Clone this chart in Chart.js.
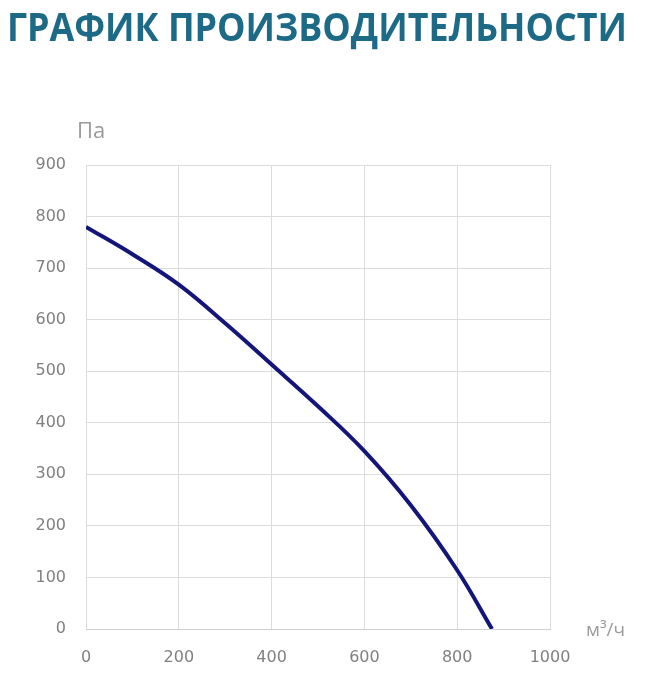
<!DOCTYPE html>
<html>
<head>
<meta charset="utf-8">
<script src="https://cdn.jsdelivr.net/npm/chart.js@4"></script>
<style>
  html, body { margin: 0; padding: 0; background: #fff; }
  body { width: 654px; height: 682px; position: relative; overflow: hidden; }
  #title {
    position: absolute; left: 7px; top: 6px; margin: 0;
    font-family: "Open Sans", sans-serif; font-weight: 700; font-size: 40px;
    line-height: 40px; color: #1d6a87; white-space: nowrap;
    transform-origin: 0 0; z-index: 2;
  }
  #chartBox { position: absolute; left: 0; top: 0; width: 654px; height: 682px; }
</style>
</head>
<body>
<h1 id="title">ГРАФИК ПРОИЗВОДИТЕЛЬНОСТИ</h1>
<div id="chartBox"><canvas id="perfChart"></canvas></div>
<script>
// air flow, m3/h
const flowValues = [0, 100, 200, 300, 400, 500, 600, 700, 800, 875];
// pressure, Pa
const pressureValues = [780, 727, 668, 593, 513, 432, 345, 240, 114, 0];

const xLimits = [0, 1000];
const yLimits = [0, 900];
const xStep = 200;
const yStep = 100;
const yUnit = 'Па';
const xUnit = 'м³/ч';

// squeeze the title to the width it has in the picture
const title = document.getElementById('title');
const titleWidth = title.getBoundingClientRect().width;
title.style.transform = 'scaleX(' + (620 / titleWidth) + ')';

const ctx = document.getElementById('perfChart');

// draws the unit labels next to the axes
const unitLabels = {
  id: 'unitLabels',
  afterDraw(chart) {
    const area = chart.chartArea;
    const c = chart.ctx;
    c.save();
    c.fillStyle = '#9a9a9a';
    c.textBaseline = 'alphabetic';
    c.textAlign = 'left';
    c.font = '22px "Open Sans"';
    c.fillText(yUnit, area.left - 9, area.top - 27);
    c.font = '19px "Open Sans"';
    c.fillText(xUnit, area.right + 36, area.bottom + 7);
    c.restore();
  }
};

const points = flowValues.map((f, i) => ({ x: f, y: pressureValues[i] }));

new Chart(ctx, {
  type: 'line',
  data: {
    datasets: [{
      data: points,
      borderColor: '#14157a',
      borderWidth: 4,
      pointRadius: 0,
      tension: 0.4,
      fill: false
    }]
  },
  options: {
    responsive: true,
    maintainAspectRatio: false,
    animation: false,
    layout: { padding: { top: 165, right: 104, left: 0, bottom: 0 } },
    plugins: { legend: { display: false }, tooltip: { enabled: false } },
    scales: {
      x: {
        type: 'linear',
        min: xLimits[0],
        max: xLimits[1],
        ticks: {
          stepSize: xStep, color: '#808080', font: { family: 'DejaVu Sans', size: 16 }, padding: 19,
          callback: (v) => String(v)
        },
        grid: { color: '#dcdcdc', lineWidth: 1, drawTicks: false },
        border: { color: '#d0d0d0', width: 1 },
        afterFit(scale) { scale.height = 53; }
      },
      y: {
        min: yLimits[0],
        max: yLimits[1],
        ticks: {
          stepSize: yStep, color: '#808080', font: { family: 'DejaVu Sans', size: 16 }, padding: 20,
          callback: (v) => String(v)
        },
        grid: { color: '#dcdcdc', lineWidth: 1, drawTicks: false },
        border: { display: false },
        afterFit(scale) { scale.width = 86; }
      }
    }
  },
  plugins: [unitLabels]
});
</script>
</body>
</html>
